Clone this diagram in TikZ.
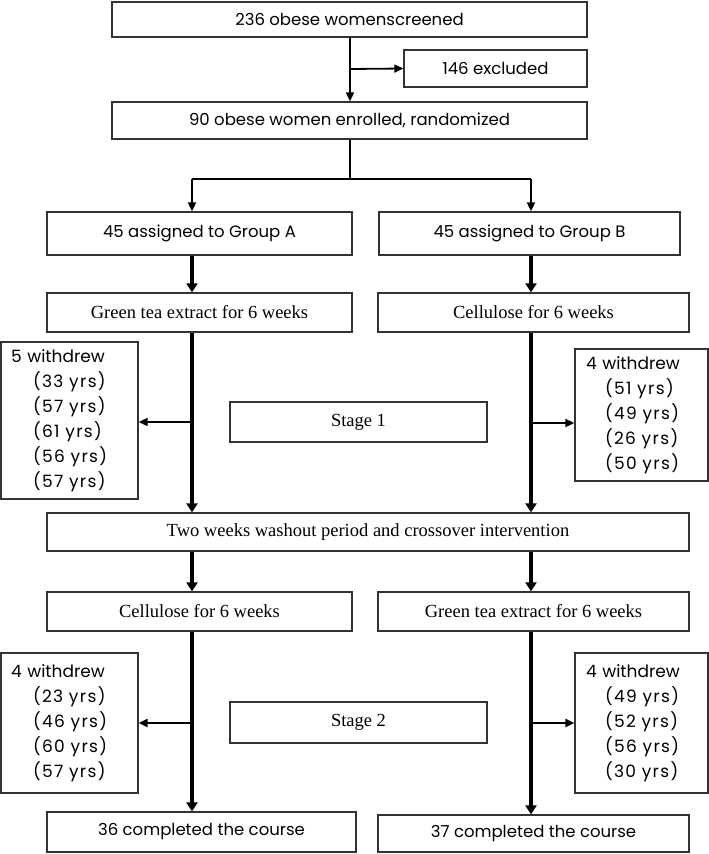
\documentclass[tikz,border=0pt]{standalone}
\usepackage{fontspec}
\setmainfont{Liberation Serif}
\newfontfamily\gothic{Poppins}
\newfontfamily\gothicsp[LetterSpace=8]{Poppins}
\usetikzlibrary{arrows.meta}
\begin{document}
\begin{tikzpicture}[x=1pt,y=-1pt,
  box/.style={draw=black!80, line width=1.3pt, rectangle, inner sep=0pt, align=center},
  sansbox/.style={box, font=\gothic\fontsize{16.5}{20}\selectfont},
  serifbox/.style={box, font=\fontsize{18.5}{21}\selectfont},
  wbox/.style={box, font=\gothic\fontsize{17}{25}\selectfont, align=left, inner xsep=10pt, text width=117pt},
  thin/.style={line width=1.8pt, -{Triangle[length=9pt,width=8pt]}},
  thick/.style={line width=3.6pt, -{Triangle[length=9pt,width=11pt]}},
  plain/.style={line width=1.8pt}]
\useasboundingbox (0,0) rectangle (709,854);
\newcommand{\yr}[1]{\hspace*{22pt}{\gothicsp(#1 yrs)}}
\newcommand{\yrr}[1]{\hspace*{19pt}{\gothicsp(#1 yrs)}}
% boxes
\node[sansbox, minimum width=475pt, minimum height=35pt] (top) at (349.5,19.5) {236 obese womenscreened};
\node[sansbox, minimum width=183pt, minimum height=37pt] (excl) at (495.5,68.5) {146 excluded};
\node[sansbox, minimum width=475pt, minimum height=37pt] (enrol) at (349.5,120.5) {90 obese women enrolled, randomized};
\node[sansbox, minimum width=305pt, minimum height=43pt] (grpA) at (199.5,233.5) {45 assigned to Group A};
\node[sansbox, minimum width=301pt, minimum height=43pt] (grpB) at (529.5,233.5) {45 assigned to Group B};
\node[serifbox, minimum width=305pt, minimum height=39pt] (s1L) at (199.5,312.5) {Green tea extract for 6 weeks};
\node[serifbox, minimum width=311pt, minimum height=39pt] (s1R) at (533.5,312.5) {Cellulose for 6 weeks};
\node[wbox, minimum height=157pt] (wdL1) at (69.5,420.5) {5 withdrew\\\yr{33}\\\yr{57}\\\yr{61}\\\yr{56}\\\yr{57}};
\node[wbox, text width=111pt, inner xsep=11pt, minimum height=132pt] (wdR1) at (641.5,415) {4 withdrew\\\yrr{51}\\\yrr{49}\\\yrr{26}\\\yrr{50}};
\node[serifbox, minimum width=257pt, minimum height=40pt] (st1) at (358.5,422) {Stage 1};
\node[serifbox, minimum width=642pt, minimum height=38pt] (wash) at (368,532) {Two weeks washout period and crossover intervention};
\node[serifbox, minimum width=305pt, minimum height=39pt] (s2L) at (199.5,611.5) {Cellulose for 6 weeks};
\node[serifbox, minimum width=311pt, minimum height=39pt] (s2R) at (533.5,611.5) {Green tea extract for 6 weeks};
\node[wbox, minimum height=140pt] (wdL2) at (69.5,723) {4 withdrew\\\yr{23}\\\yr{46}\\\yr{60}\\\yr{57}};
\node[wbox, text width=111pt, inner xsep=11pt, minimum height=140pt] (wdR2) at (641.5,723) {4 withdrew\\\yrr{49}\\\yrr{52}\\\yrr{56}\\\yrr{30}};
\node[serifbox, minimum width=257pt, minimum height=41pt] (st2) at (358.5,722.5) {Stage 2};
\node[sansbox, minimum width=309pt, minimum height=40pt] (compL) at (201.5,832) {36 completed the course};
\node[sansbox, minimum width=311pt, minimum height=37pt] (compR) at (533.5,833.5) {37 completed the course};
% column coordinates
\coordinate (cM) at (350,0);
\coordinate (cL) at (192,0);
\coordinate (cR) at (531,0);
\coordinate (split) at (350,179);
\coordinate (bx) at (350,69);
\coordinate (bL1) at (192,422);
\coordinate (bR1) at (531,423);
\coordinate (bL2) at (192,723);
\coordinate (bR2) at (531,723);
% connectors
\draw[thin] (top.south -| cM) -- (enrol.north -| cM);
\draw[thin] (bx) -- (excl.west);
\draw[plain] (enrol.south -| cM) -- (split);
\draw[plain] (split -| cL) -- (split -| cR);
\draw[thin] (split -| cL) -- (grpA.north -| cL);
\draw[thin] (split -| cR) -- (grpB.north -| cR);
\draw[thick] (grpA.south -| cL) -- (s1L.north -| cL);
\draw[thick] (grpB.south -| cR) -- (s1R.north -| cR);
\draw[thick] (s1L.south -| cL) -- (wash.north -| cL);
\draw[thick] (s1R.south -| cR) -- (wash.north -| cR);
\draw[thin] (bL1) -- (bL1 -| wdL1.east);
\draw[thin] (bR1) -- (bR1 -| wdR1.west);
\draw[thick] (wash.south -| cL) -- (s2L.north -| cL);
\draw[thick] (wash.south -| cR) -- (s2R.north -| cR);
\draw[thick] (s2L.south -| cL) -- (compL.north -| cL);
\draw[thick] (s2R.south -| cR) -- (compR.north -| cR);
\draw[thin, line width=2.6pt] (bL2) -- (bL2 -| wdL2.east);
\draw[thin, line width=2.6pt] (bR2) -- (bR2 -| wdR2.west);
\end{tikzpicture}
\end{document}
